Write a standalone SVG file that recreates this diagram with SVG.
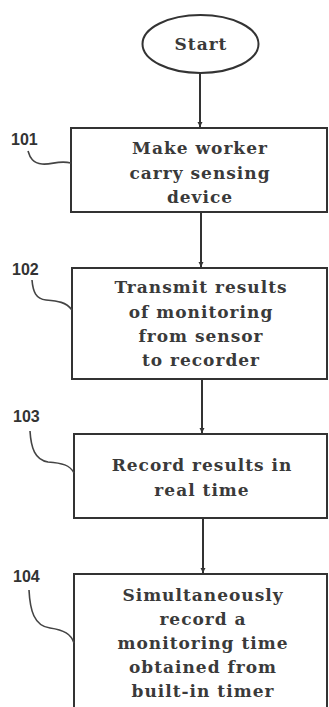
<svg xmlns="http://www.w3.org/2000/svg" width="329" height="707" viewBox="0 0 329 707">
<style>
.box{fill:#fff;stroke:#333;stroke-width:2}
.t{font-family:"DejaVu Serif",serif;font-weight:bold;font-size:17px;letter-spacing:1px;fill:#3a3a3a;text-anchor:middle}
.lbl{font-family:"Liberation Sans",Arial,sans-serif;font-weight:bold;font-size:16px;fill:#333}
.ld{fill:none;stroke:#444;stroke-width:1.6}
.cn{stroke:#333;stroke-width:2;fill:none}
</style>
<defs>
<marker id="ah" markerWidth="6" markerHeight="8" refX="5" refY="4" orient="auto" markerUnits="userSpaceOnUse">
<path d="M0,1.5 L5,4 L0,6.5 Z" fill="#333"/>
</marker>
</defs>
<rect width="329" height="707" fill="#fff"/>
<g id="connectors">
<line class="cn" x1="200" y1="73" x2="200" y2="127" marker-end="url(#ah)"/>
<line class="cn" x1="201" y1="212" x2="201" y2="267" marker-end="url(#ah)"/>
<line class="cn" x1="202" y1="379" x2="202" y2="433" marker-end="url(#ah)"/>
<line class="cn" x1="203" y1="518" x2="203" y2="573" marker-end="url(#ah)"/>
</g>
<g id="start">
<ellipse cx="200.5" cy="44" rx="58" ry="29" class="box"/>
<text class="t" x="201" y="50">Start</text>
</g>
<g id="n101">
<rect class="box" x="71" y="128" width="256" height="84"/>
<text class="t" x="200" y="154">Make worker</text>
<text class="t" x="200" y="179">carry sensing</text>
<text class="t" x="200" y="203">device</text>
<text class="lbl" x="11" y="145">101</text>
<path class="ld" d="M28,151 C30,158 33,163 42,164 C52,165 58,160 71,163"/>
</g>
<g id="n102">
<rect class="box" x="72" y="268" width="255" height="111"/>
<text class="t" x="201" y="293">Transmit results</text>
<text class="t" x="201" y="318">of monitoring</text>
<text class="t" x="201" y="342">from sensor</text>
<text class="t" x="201" y="366">to recorder</text>
<text class="lbl" x="12" y="275">102</text>
<path class="ld" d="M32,280 C33,292 36,299 46,300 C58,301 66,302 72,310"/>
</g>
<g id="n103">
<rect class="box" x="74" y="434" width="253" height="84"/>
<text class="t" x="202" y="471">Record results in</text>
<text class="t" x="202" y="496">real time</text>
<text class="lbl" x="13" y="422">103</text>
<path class="ld" d="M30,431 C31,448 35,460 48,462 C62,463 70,465 74,473"/>
</g>
<g id="n104">
<rect class="box" x="74" y="574" width="253" height="140"/>
<text class="t" x="203" y="601">Simultaneously</text>
<text class="t" x="203" y="625">record a</text>
<text class="t" x="203" y="649">monitoring time</text>
<text class="t" x="203" y="673">obtained from</text>
<text class="t" x="203" y="697">built-in timer</text>
<text class="lbl" x="13" y="582">104</text>
<path class="ld" d="M29,590 C30,610 34,626 50,628 C64,630 71,634 74,643"/>
</g>
</svg>
